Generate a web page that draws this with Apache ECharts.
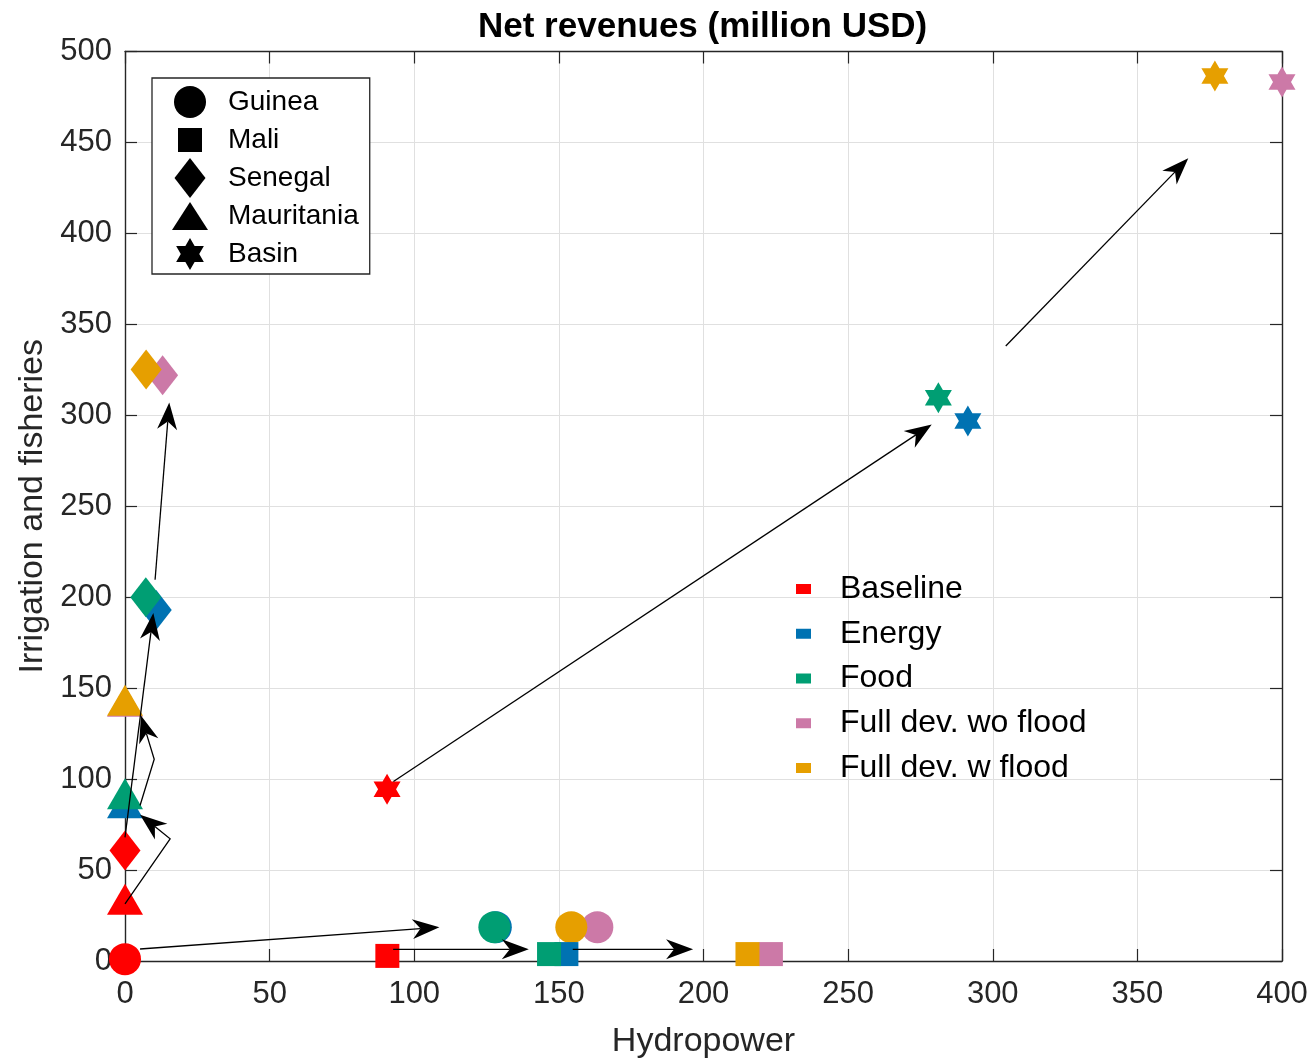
<!DOCTYPE html>
<html>
<head>
<meta charset="utf-8">
<title>Net revenues (million USD)</title>
<script src="https://cdn.jsdelivr.net/npm/echarts@6/dist/echarts.min.js"></script>
<style>
  html, body { margin: 0; padding: 0; background: #fff; }
  #chart { width: 1313px; height: 1064px; }
</style>
</head>
<body>
<div id="chart"></div>
<script>
// Scenarios, in drawing order (later ones sit on top)
const scenarios = ['Baseline', 'Energy', 'Food', 'Full dev. wo flood', 'Full dev. w flood'];
const scenarioColors = ['#FF0000', '#0072B2', '#009E73', '#CC79A7', '#E69F00'];

// Net revenues per region, one [hydropower, irrigation and fisheries] pair per scenario
const countries = ['Guinea', 'Mali', 'Senegal', 'Mauritania', 'Basin'];
const guinea     = [[0, 1],      [128.2, 18.6], [127.7, 18.6], [163.3, 18.6], [154.3, 18.6]];
const mali       = [[90.7, 2.8], [152.6, 3.8],  [146.6, 3.8],  [223.3, 3.8],  [215.2, 3.8]];
const senegal    = [[0, 60.7],   [10.8, 193],   [7.2, 200],    [13.0, 322],   [7.3, 325.2]];
const mauritania = [[0, 34],     [0, 87],       [0, 92],       [0, 142.8],    [0, 143.4]];
const basin      = [[90.6, 94.4],[291.4, 296.8],[281.2, 309.6],[400, 483.2],  [376.8, 486.5]];
const regionValues = [guinea, mali, senegal, mauritania, basin];

// Axis ranges and tick steps
const xTicks = { min: 0, max: 400, step: 50 };
const yTicks = { min: 0, max: 500, step: 50 };

// Transition arrows between scenarios, in data units; the last point is the tip
const arrowPaths = [
  [[5.2, 6.6], [108.7, 18.6]],
  [[92.7, 6.4], [139.6, 6.4]],
  [[154.8, 6.4], [196.4, 6.4]],
  [[92.8, 98.7], [278.9, 295.0]],
  [[304.5, 338.1], [367.6, 441.3]],
  [[0, 68], [9.8, 191.3]],
  [[10.4, 209.6], [15.3, 307.0]],
  [[0, 31.4], [15.6, 67.2], [5.2, 80.4]],
  [[5.2, 85.5], [10.1, 110.9], [5.5, 135.0]]
];

const FONT = 'Liberation Sans, Arial, Helvetica, sans-serif';
const AXIS_COLOR = '#262626';

const hexagram = 'path://M0,-100L28.87,-50L86.6,-50L57.74,0L86.6,50L28.87,50L0,100L-28.87,50L-86.6,50L-57.74,0L-86.6,-50L-28.87,-50Z';
const markerShapes = {
  Guinea:     { symbol: 'circle',   size: [32, 32] },
  Mali:       { symbol: 'rect',     size: [24, 24] },
  Senegal:    { symbol: 'diamond',  size: [31, 40] },
  Mauritania: { symbol: 'triangle', size: [36, 31] },
  Basin:      { symbol: hexagram,   size: [27, 31] }
};

// Legend icons drawn in a fixed 66x40 frame so each keeps its own size
const FRAME = 'M-33,-20M33,20';
const legendIcons = {
  Guinea:     'path://' + FRAME + 'M-16,0A16,16,0,1,1,16,0A16,16,0,1,1,-16,0Z',
  Mali:       'path://' + FRAME + 'M-12,-12L12,-12L12,12L-12,12Z',
  Senegal:    'path://' + FRAME + 'M0,-20L15.5,0L0,20L-15.5,0Z',
  Mauritania: 'path://' + FRAME + 'M0,-14L18,14L-18,14Z',
  Basin:      'path://' + FRAME + 'M0,-16L4.62,-8L13.86,-8L9.24,0L13.86,8L4.62,8L0,16L-4.62,8L-13.86,8L-9.24,0L-13.86,-8L-4.62,-8Z'
};
const scenarioIcon = 'path://M-31.5,-5M31.5,5M-7.5,-5L7.5,-5L7.5,5L-7.5,5Z';

function renderArrow(params, api) {
  const pts = arrowPaths[api.value(2)].map(p => api.coord(p));
  const n = pts.length;
  const tip = pts[n - 1], prev = pts[n - 2];
  const dx = tip[0] - prev[0], dy = tip[1] - prev[1];
  const len = Math.hypot(dx, dy);
  const ux = dx / len, uy = dy / len, nx = -uy, ny = ux;
  const L = 27, W = 10, N = 19;
  const notch = [tip[0] - N * ux, tip[1] - N * uy];
  const head = [
    tip,
    [tip[0] - L * ux + W * nx, tip[1] - L * uy + W * ny],
    notch,
    [tip[0] - L * ux - W * nx, tip[1] - L * uy - W * ny]
  ];
  const shaft = pts.slice(0, n - 1).concat([notch]);
  return {
    type: 'group',
    children: [
      { type: 'polyline', shape: { points: shaft }, style: { stroke: '#000', lineWidth: 1.3, fill: null } },
      { type: 'polygon', shape: { points: head }, style: { fill: '#000' } }
    ]
  };
}

const regionSeries = countries.map((name, ci) => ({
  type: 'scatter',
  name: name,
  symbol: markerShapes[name].symbol,
  symbolSize: markerShapes[name].size,
  itemStyle: { color: '#000', opacity: 1 },
  data: regionValues[ci].map((v, si) => ({ value: v, itemStyle: { color: scenarioColors[si], opacity: 1 } })),
  clip: false,
  z: 3,
  silent: true
}));

const scenarioSeries = scenarios.map((name, si) => ({
  type: 'scatter',
  name: name,
  itemStyle: { color: scenarioColors[si], opacity: 1 },
  data: []
}));

const arrowSeries = {
  type: 'custom',
  name: 'transitions',
  renderItem: renderArrow,
  data: arrowPaths.map((p, i) => [p[0][0], p[0][1], i]),
  encode: { x: 0, y: 1 },
  clip: false,
  z: 5,
  silent: true
};

function axisCommon(t) {
  return {
    type: 'value',
    min: t.min,
    max: t.max,
    interval: t.step,
    axisLine: { show: true, onZero: false, lineStyle: { color: AXIS_COLOR, width: 1.4 } },
    axisTick: { show: true, inside: true, length: 12, lineStyle: { color: AXIS_COLOR, width: 1.2 } }
  };
}

const chart = echarts.init(document.getElementById('chart'), null, { renderer: 'canvas' });
chart.setOption({
  animation: false,
  backgroundColor: '#fff',
  textStyle: { fontFamily: FONT },
  title: {
    text: 'Net revenues (million USD)',
    left: 478,
    top: 10,
    padding: 0,
    textStyle: { fontFamily: FONT, fontSize: 35, fontWeight: 'bold', color: '#000' }
  },
  grid: { left: 125, right: 31, top: 51.5, bottom: 101, containLabel: false },
  xAxis: [
    Object.assign(axisCommon(xTicks), {
      position: 'bottom',
      name: 'Hydropower',
      nameLocation: 'middle',
      nameGap: 64,
      nameTextStyle: { fontFamily: FONT, fontSize: 34, color: AXIS_COLOR },
      axisLabel: { fontFamily: FONT, fontSize: 31, color: AXIS_COLOR, margin: 18 },
      splitLine: { show: true, lineStyle: { color: '#e0e0e0', width: 1 } }
    }),
    Object.assign(axisCommon(xTicks), {
      position: 'top',
      axisLabel: { show: false },
      splitLine: { show: false }
    })
  ],
  yAxis: [
    Object.assign(axisCommon(yTicks), {
      position: 'left',
      name: 'Irrigation and fisheries',
      nameLocation: 'middle',
      nameGap: 75,
      nameTextStyle: { fontFamily: FONT, fontSize: 34, color: AXIS_COLOR },
      axisLabel: { fontFamily: FONT, fontSize: 31, color: AXIS_COLOR, margin: 13 },
      splitLine: { show: true, lineStyle: { color: '#e0e0e0', width: 1 } }
    }),
    Object.assign(axisCommon(yTicks), {
      position: 'right',
      axisLabel: { show: false },
      splitLine: { show: false }
    })
  ],
  legend: [
    {
      data: countries.map(name => ({ name: name, icon: legendIcons[name] })),
      orient: 'vertical',
      left: 152,
      top: 78,
      padding: [4, 11, 0, 5],
      itemWidth: 66,
      itemHeight: 40,
      itemGap: -2,
      symbolKeepAspect: true,
      selectedMode: false,
      backgroundColor: '#fff',
      borderColor: AXIS_COLOR,
      borderWidth: 1.3,
      borderRadius: 0,
      z: 10,
      itemStyle: { color: '#000', opacity: 1 },
      textStyle: { fontFamily: FONT, fontSize: 28, lineHeight: 32, color: '#000' }
    },
    {
      data: scenarios.map(name => ({ name: name, icon: scenarioIcon })),
      orient: 'vertical',
      left: 772,
      top: 572,
      padding: 0,
      itemWidth: 63,
      itemHeight: 10,
      itemGap: 10.75,
      symbolKeepAspect: true,
      selectedMode: false,
      itemStyle: { opacity: 1 },
      textStyle: { fontFamily: FONT, fontSize: 32, lineHeight: 34, color: '#000' }
    }
  ],
  series: regionSeries.concat(scenarioSeries, [arrowSeries])
});
</script>
</body>
</html>
